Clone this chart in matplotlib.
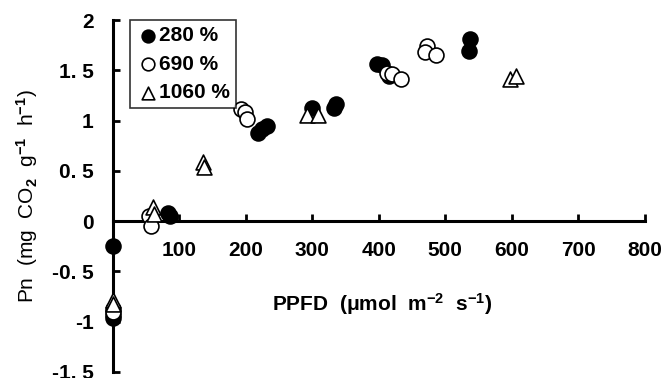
import numpy as np
import matplotlib
matplotlib.use("Agg")
import matplotlib.pyplot as plt

plt.rcParams['font.family'] = ['Liberation Sans', 'DejaVu Sans']
plt.rcParams['font.weight'] = 'bold'
plt.rcParams['mathtext.fontset'] = 'custom'
plt.rcParams['mathtext.rm'] = 'Liberation Sans:bold'
plt.rcParams['mathtext.default'] = 'rm'

# 280 % (filled circles)
ppfd_280 = [0, 0, 0, 83, 86, 218, 225, 232, 300, 333, 336, 398, 405, 415, 535, 537]
pn_280 = [-0.25, -0.93, -0.96, 0.08, 0.05, 0.88, 0.92, 0.95, 1.13, 1.13, 1.16, 1.56, 1.55, 1.44, 1.69, 1.81]

# 690 % (open circles)
ppfd_690 = [0, 0, 55, 57, 193, 199, 202, 413, 420, 433, 472, 470, 486]
pn_690 = [-0.87, -0.9, 0.05, -0.05, 1.12, 1.09, 1.02, 1.47, 1.46, 1.41, 1.74, 1.68, 1.65]

# 1060 % (open triangles)
ppfd_1060 = [0, 0, 60, 62, 136, 137, 292, 308, 597, 607]
pn_1060 = [-0.78, -0.82, 0.14, 0.07, 0.59, 0.54, 1.06, 1.06, 1.41, 1.44]

xticks = [100, 200, 300, 400, 500, 600, 700, 800]
yticks = [-1.5, -1, -0.5, 0, 0.5, 1, 1.5, 2]
ylabels = ['-1. 5', '-1', '-0. 5', '0', '0. 5', '1', '1. 5', '2']

fig = plt.figure(figsize=(6.64, 3.78), dpi=100)
ax = fig.add_axes([0.170, 0.016, 0.801, 0.931])

ms = 115
ax.scatter(ppfd_280, pn_280, s=ms, marker='o', facecolor='black', edgecolor='black',
           linewidth=1.2, clip_on=False, zorder=3, label='280 %')
ax.scatter(ppfd_690, pn_690, s=ms, marker='o', facecolor='white', edgecolor='black',
           linewidth=1.2, clip_on=False, zorder=3, label='690 %')
ax.scatter(ppfd_1060, pn_1060, s=ms, marker='^', facecolor='white', edgecolor='black',
           linewidth=1.2, clip_on=False, zorder=3, label='1060 %')

ax.set_xlim(0, 800)
ax.set_ylim(-1.5, 2)

ax.spines['top'].set_visible(False)
ax.spines['right'].set_visible(False)
ax.spines['bottom'].set_position(('data', 0))
ax.spines['left'].set_linewidth(2.2)
ax.spines['bottom'].set_linewidth(2.2)

ax.set_xticks(xticks)
ax.set_yticks(yticks)
ax.set_yticklabels(ylabels)
ax.tick_params(axis='both', direction='in', length=5, width=2, labelsize=15)
ax.tick_params(axis='x', pad=14)
ax.tick_params(axis='y', pad=14)

ax.set_ylabel('Pn  (mg  CO$_2$  g$^{-1}$  h$^{-1}$)', fontsize=15, labelpad=8)
ax.text(405, -0.82, 'PPFD  (μmol  m$^{-2}$  s$^{-1}$)', fontsize=15, ha='center', va='center')

leg = ax.legend(loc='upper left', bbox_to_anchor=(0.032, 1.0), frameon=True, fancybox=False,
                edgecolor='black', fontsize=15, handletextpad=0.0, handlelength=1.1,
                borderpad=0.3, labelspacing=0.45, borderaxespad=0.0, markerscale=0.85)
leg.get_frame().set_linewidth(1.2)

fig.savefig('out.png', dpi=100)
